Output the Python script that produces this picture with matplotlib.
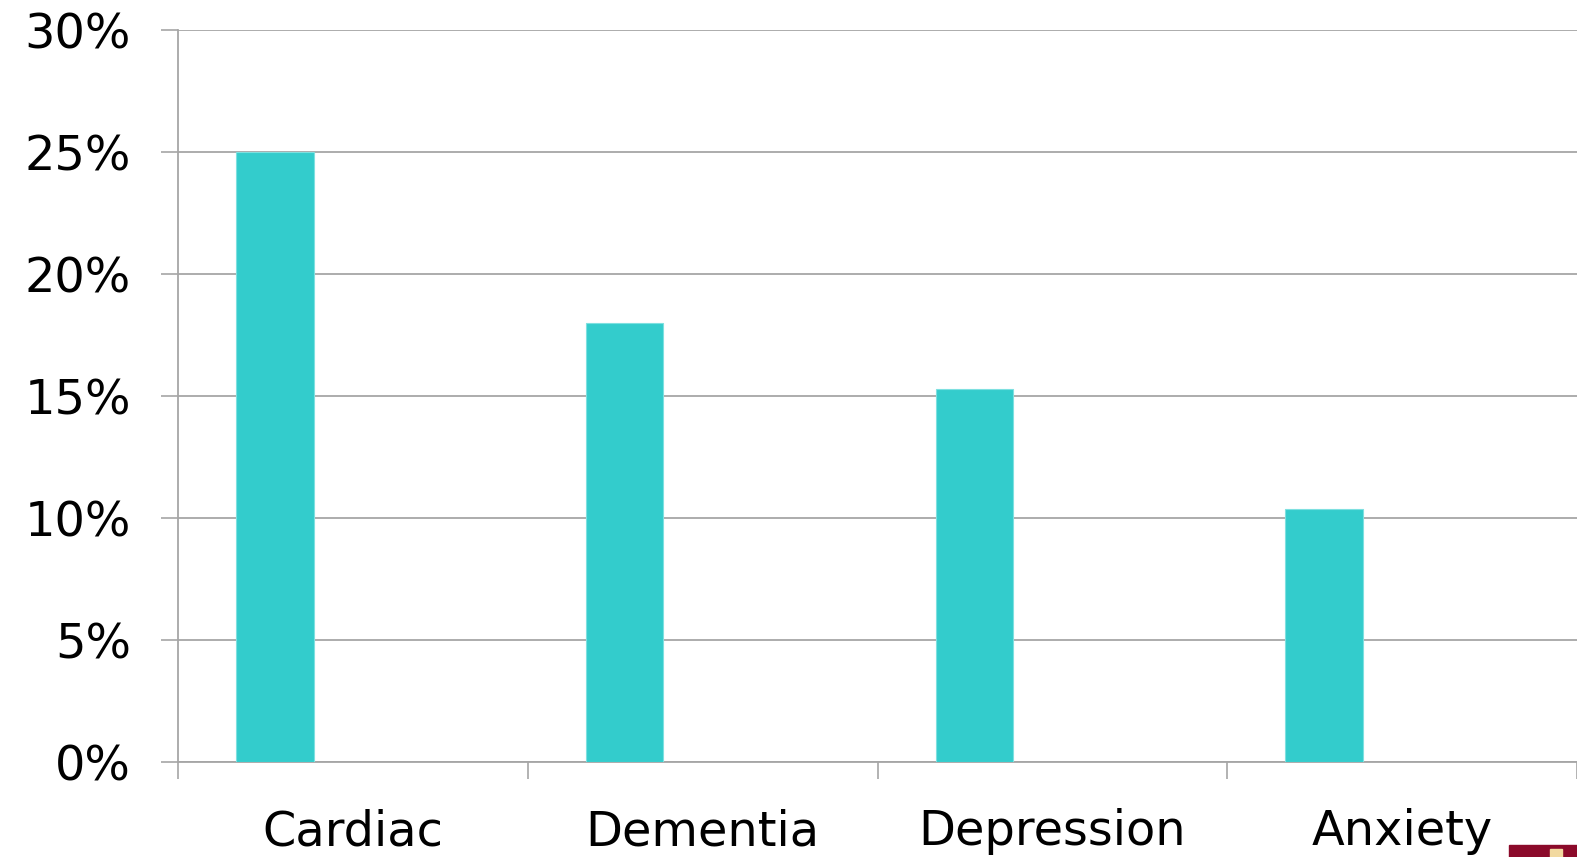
import numpy as np
import matplotlib.pyplot as plt
from matplotlib.patches import Rectangle

# Share of cases by condition
categories = ["Cardiac", "Dementia", "Depression", "Anxiety"]
values = [25.0, 18.0, 15.3, 10.4]

bar_color = "#33CCCC"
grid_color = "#A6A6A6"

fig = plt.figure(figsize=(15.77, 8.57), dpi=100)
ax = fig.add_axes([0.1129, 0.1104, 0.8871, 0.8544])

x = np.arange(len(categories))
ax.bar(x - 0.223, values, width=0.222, color=bar_color,
       edgecolor="#7EE0E0", linewidth=0.8, zorder=3)

ax.set_xlim(-0.5, len(categories) - 0.5)
ax.set_ylim(0, 30)
ax.set_yticks(np.arange(0, 31, 5))
ax.set_yticklabels([f"{v}%" for v in range(0, 31, 5)])

# category ticks sit on the boundaries, labels in the middle
ax.set_xticks(np.arange(-0.5, len(categories), 1.0))
ax.set_xticklabels([])
ax.set_xticks(x, minor=True)
ax.set_xticklabels(categories, minor=True)
ax.tick_params(axis="x", which="major", length=12, width=1.2, color=grid_color)
ax.tick_params(axis="x", which="minor", length=0, pad=33, labelsize=34.5)
ax.tick_params(axis="y", length=12, width=1.2, color=grid_color, pad=22, labelsize=34.5)

ax.yaxis.grid(True, color=grid_color, linewidth=1.3, zorder=0)
ax.set_axisbelow(True)
for s in ["top", "right"]:
    ax.spines[s].set_visible(False)
for s in ["left", "bottom"]:
    ax.spines[s].set_color(grid_color)
    ax.spines[s].set_linewidth(1.3)

# corner logo fragment
fig.patches.append(Rectangle((1509 / 1577, 0), 68 / 1577, 12 / 857,
                             transform=fig.transFigure, color="#8B0A2A", zorder=5))
fig.patches.append(Rectangle((1550 / 1577, 0), 12 / 1577, 8 / 857,
                             transform=fig.transFigure, color="#F2D9A0", zorder=6))

fig.savefig("out.png", dpi=100)
